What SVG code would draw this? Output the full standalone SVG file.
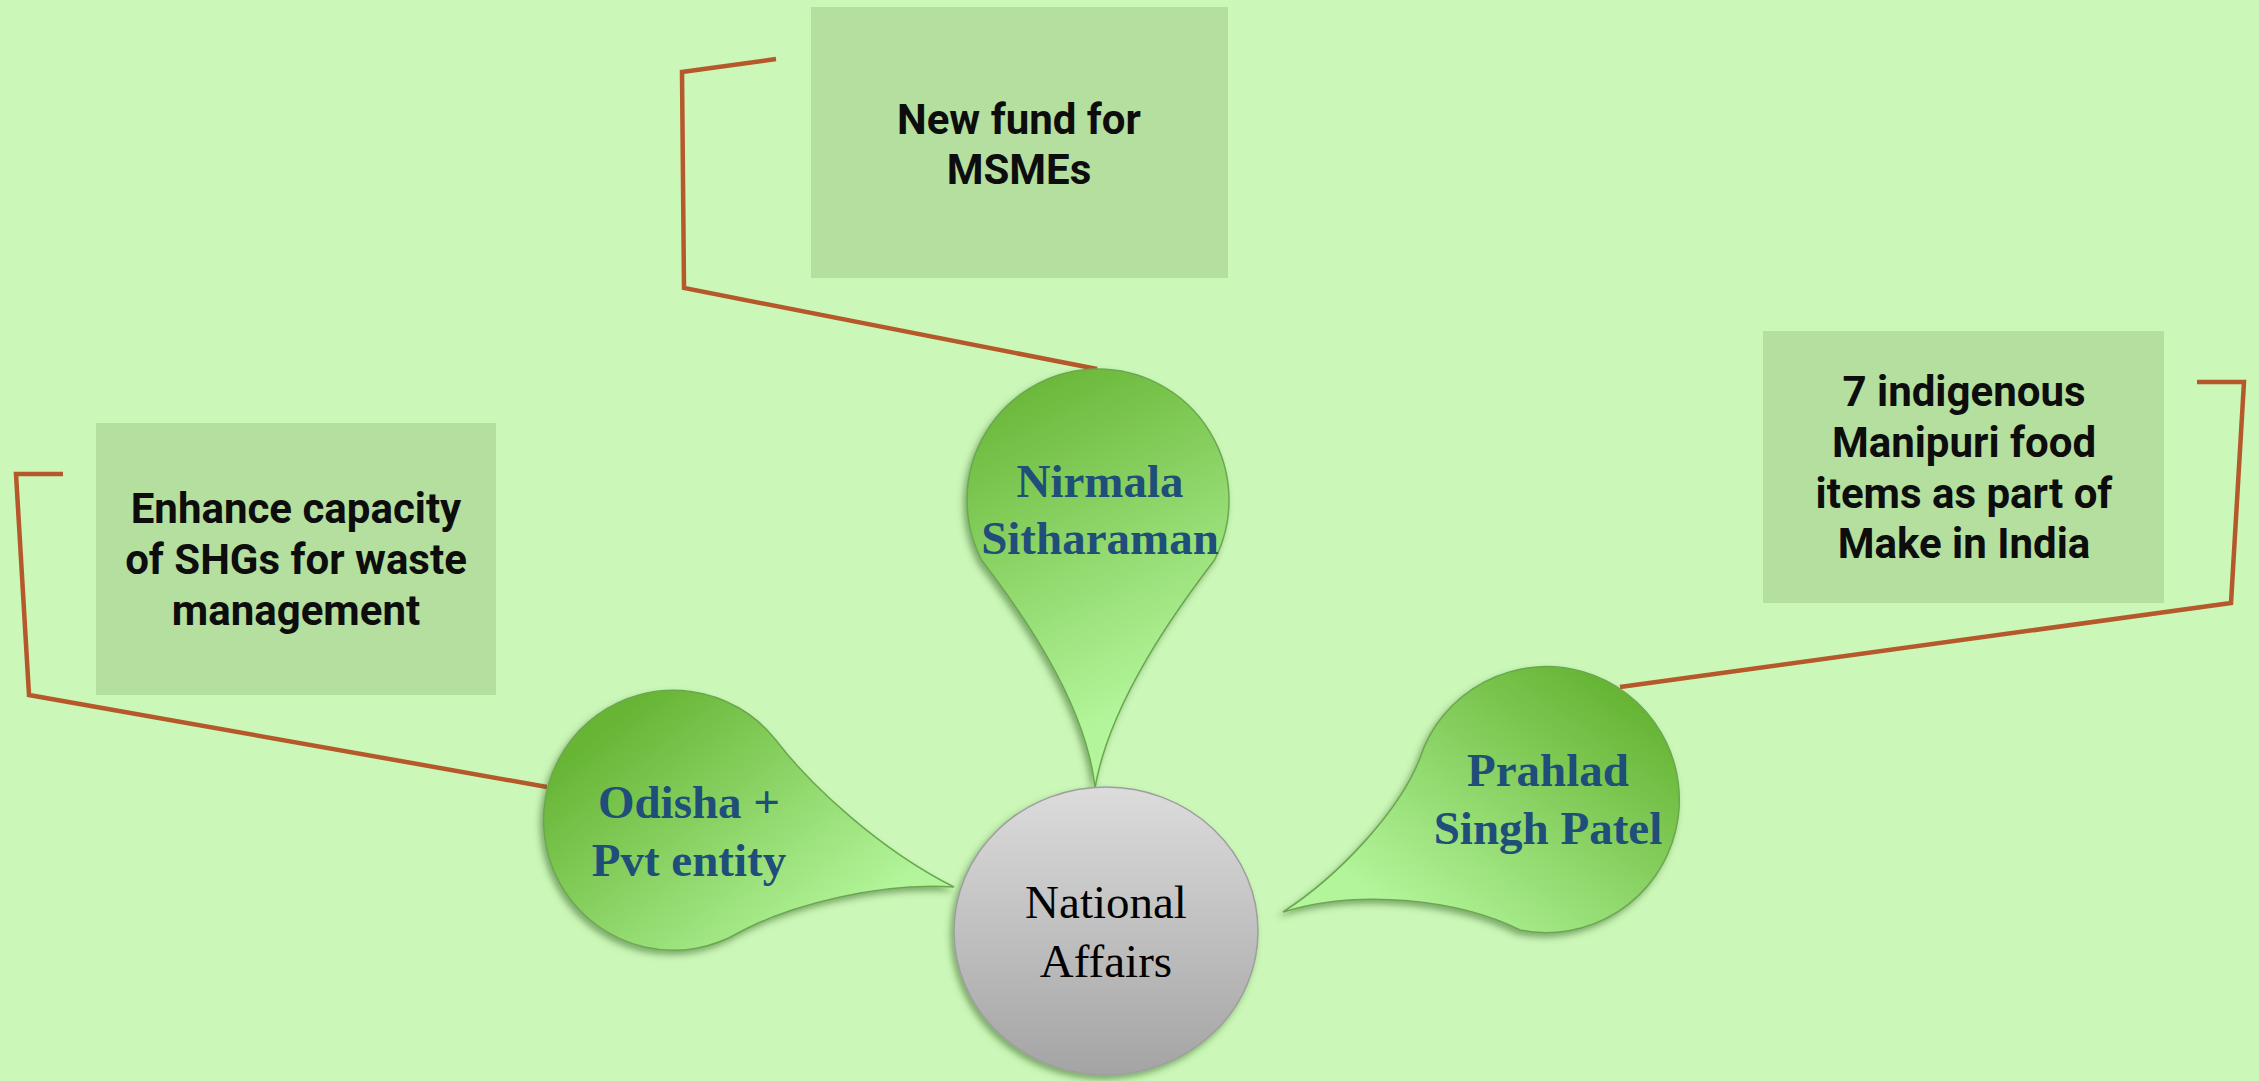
<svg xmlns="http://www.w3.org/2000/svg" width="2259" height="1081" viewBox="0 0 2259 1081">
<defs>
<style>
.box{fill:#B4DF9E}
.btxt{font-family:Roboto,"Liberation Sans",sans-serif;font-weight:bold;font-size:42px;fill:#0D0D0D;text-anchor:middle}
.ltxt{font-family:"Liberation Serif","Times New Roman",serif;font-weight:bold;font-size:47px;fill:#1F4E79;text-anchor:middle}
.ctxt{font-family:"Liberation Serif","Times New Roman",serif;font-size:47px;fill:#000;text-anchor:middle}
.leaf{stroke:#6AA84F;stroke-width:1.5;filter:url(#sh)}
.conn{fill:none;stroke:#B5582A;stroke-width:4.5;stroke-linejoin:miter}
</style>
<filter id="sh" x="-20%" y="-20%" width="140%" height="140%">
<feDropShadow dx="-3" dy="4" stdDeviation="3" flood-color="#2E5E1A" flood-opacity="0.5"/>
</filter>
<linearGradient id="gN" gradientUnits="userSpaceOnUse" x1="1000" y1="380" x2="1150" y2="700">
<stop offset="0" stop-color="#67B535"/><stop offset="1" stop-color="#B3F59B"/>
</linearGradient>
<linearGradient id="gO" gradientUnits="userSpaceOnUse" x1="640" y1="700" x2="830" y2="940">
<stop offset="0" stop-color="#67B535"/><stop offset="1" stop-color="#B3F59B"/>
</linearGradient>
<linearGradient id="gP" gradientUnits="userSpaceOnUse" x1="1600" y1="680" x2="1420" y2="930">
<stop offset="0" stop-color="#67B535"/><stop offset="1" stop-color="#B3F59B"/>
</linearGradient>
<linearGradient id="gC" x1="0" y1="0" x2="0" y2="1">
<stop offset="0" stop-color="#DCDCDC"/><stop offset="1" stop-color="#A4A4A4"/>
</linearGradient>
</defs>
<rect width="2259" height="1081" fill="#CBF7B8"/>

<g id="connectors">
<path class="conn" d="M776,59 L682,72 L684,288 L1097,369"/>
<path class="conn" d="M63,474 L16,474 L29,695 L547,787"/>
<path class="conn" d="M2197,382 L2244,382 L2231,603 L1620,687"/>
</g>

<g id="box-msme">
<rect class="box" x="811" y="7" width="417" height="271"/>
<text class="btxt" x="1019" y="134">New fund for</text>
<text class="btxt" x="1019" y="184">MSMEs</text>
</g>

<g id="box-shg">
<rect class="box" x="96" y="423" width="400" height="272"/>
<text class="btxt" x="296" y="523">Enhance capacity</text>
<text class="btxt" x="296" y="574">of SHGs for waste</text>
<text class="btxt" x="296" y="625">management</text>
</g>

<g id="box-manipur">
<rect class="box" x="1763" y="331" width="401" height="272"/>
<text class="btxt" x="1964" y="406">7 indigenous</text>
<text class="btxt" x="1964" y="457">Manipuri food</text>
<text class="btxt" x="1964" y="508">items as part of</text>
<text class="btxt" x="1964" y="558">Make in India</text>
</g>

<g id="leaf-nirmala">
<path class="leaf" fill="url(#gN)" d="M981.5,560 A131,131 0 1 1 1214.5,560 C1180,605 1110,700 1095,788 C1086,700 1016,605 981.5,560 Z"/>
<text class="ltxt" x="1100" y="497">Nirmala</text>
<text class="ltxt" x="1100" y="554">Sitharaman</text>
</g>

<g id="leaf-odisha">
<path class="leaf" fill="url(#gO)" d="M740,932 A130,130 0 1 1 775,739 C810,785 880,850 954,887 C880,882 790,905 740,932 Z"/>
<text class="ltxt" x="689" y="818">Odisha +</text>
<text class="ltxt" x="689" y="876">Pvt entity</text>
</g>

<g id="leaf-prahlad">
<path class="leaf" fill="url(#gP)" d="M1420,758 A133,133 0 1 1 1520,930 C1460,900 1360,888 1283,912 C1340,875 1400,810 1420,758 Z"/>
<text class="ltxt" x="1548" y="786">Prahlad</text>
<text class="ltxt" x="1548" y="844">Singh Patel</text>
</g>

<g id="center">
<ellipse cx="1106" cy="931" rx="152" ry="144" fill="url(#gC)" stroke="#9E9E9E" stroke-width="1.5" filter="url(#sh)"/>
<text class="ctxt" x="1106" y="918">National</text>
<text class="ctxt" x="1106" y="977">Affairs</text>
</g>
</svg>
